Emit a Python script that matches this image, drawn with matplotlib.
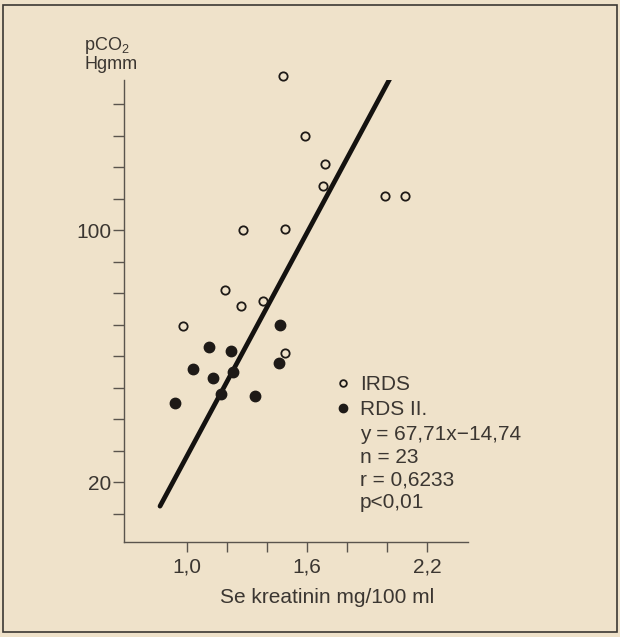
import matplotlib
matplotlib.use("Agg")
import matplotlib.pyplot as plt
from matplotlib.patches import Rectangle

# IRDS (open circles)
irds_x = [1.48, 1.59, 1.69, 1.68, 1.99, 2.09, 1.28, 1.49, 1.19, 1.38, 1.27, 0.98, 1.49]
irds_y = [149, 130, 121, 114, 111, 111, 100, 100.5, 81, 77.5, 76, 69.5, 61]
# RDS II. (filled circles)
rds_x = [1.465, 1.11, 1.22, 1.03, 1.23, 1.46, 1.13, 1.17, 1.34, 0.94]
rds_y = [70, 63, 61.5, 56, 55, 58, 53, 48, 47.5, 45]
# regression line as drawn
line_x = [0.865, 2.03]
line_y = [12.4, 150]

x_ticks = [1.0, 1.2, 1.4, 1.6, 1.8, 2.0, 2.2]
x_labels = ["1,0", "", "", "1,6", "", "", "2,2"]
y_ticks = list(range(10, 150, 10))
y_labels = ["20" if v == 20 else "100" if v == 100 else "" for v in y_ticks]
stats = ["y = 67,71x\u221214,74", "n = 23", "r = 0,6233", "p<0,01"]

bg = "#efe2ca"
ink = "#3b3631"
dark = "#1e1a17"

plt.rcParams["font.family"] = ["Liberation Sans", "DejaVu Sans"]
plt.rcParams["mathtext.default"] = "regular"

fig = plt.figure(figsize=(6.2, 6.37), dpi=100, facecolor=bg)
ax = fig.add_axes([0.2, 0.149, 0.555, 0.725])
ax.set_facecolor(bg)

ax.plot(line_x, line_y, color="#141210", lw=3.4, solid_capstyle="round", zorder=2)
h1, = ax.plot(irds_x, irds_y, "o", ms=6, mfc="none", mec=dark, mew=1.3,
              clip_on=False, zorder=3, label="IRDS")
h2, = ax.plot(rds_x, rds_y, "o", ms=7.5, mfc=dark, mec=dark,
              clip_on=False, zorder=3, label="RDS II.")

ax.set_xlim(0.685, 2.405)
ax.set_ylim(1, 147.6)

for s in ["top", "right"]:
    ax.spines[s].set_visible(False)
for s in ["left", "bottom"]:
    ax.spines[s].set_color("#5a544d")
    ax.spines[s].set_linewidth(1.0)

ax.set_xticks(x_ticks)
ax.set_xticklabels(x_labels)
ax.set_yticks(y_ticks)
ax.set_yticklabels(y_labels)
ax.tick_params(axis="x", length=7, width=1.0, color="#5a544d", pad=4,
               labelsize=15, labelcolor=ink)
ax.tick_params(axis="y", length=8, width=1.0, color="#5a544d", pad=1,
               labelsize=15, labelcolor=ink)

ax.text(0.589, -0.132, "Se kreatinin mg/100 ml", transform=ax.transAxes,
        ha="center", va="baseline", fontsize=15, color=ink)
ax.text(-0.116, 1.015, "pCO$_2$\nHgmm", transform=ax.transAxes,
        ha="left", va="bottom", fontsize=13, color=ink, linespacing=1.0)

leg = ax.legend(handles=[h1, h2], loc="upper left", bbox_to_anchor=(0.589, 0.384),
                frameon=False, handlelength=0.6, handletextpad=0.5,
                labelspacing=0.3, borderpad=0, fontsize=15, markerscale=0.8)
for t in leg.get_texts():
    t.set_color(ink)

ax.text(0.686, 0.253, "\n".join(stats), transform=ax.transAxes,
        ha="left", va="top", fontsize=15, color=ink, linespacing=1.25)

# frame around the whole figure
fig.add_artist(Rectangle((3 / 620, 5 / 637), 614 / 620, 627 / 637,
                         transform=fig.transFigure, fill=False,
                         ec="#3c3833", lw=1.2))

fig.savefig("out.png", dpi=100, facecolor=bg)
